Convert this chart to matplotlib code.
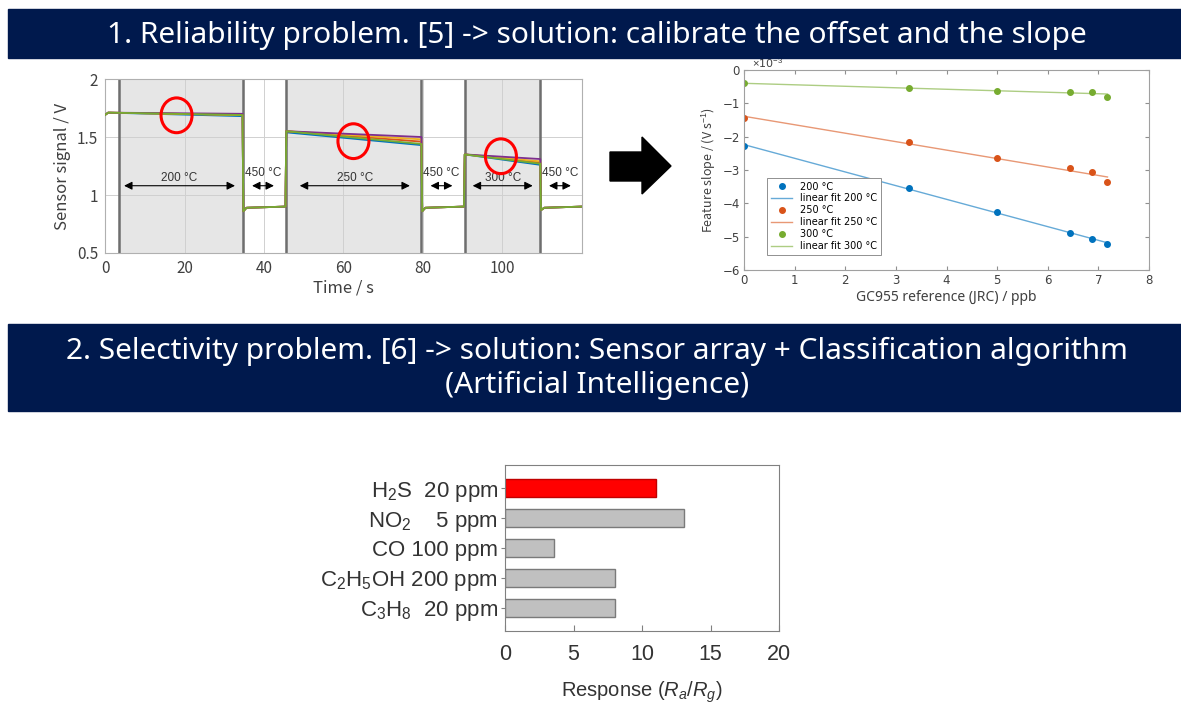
import matplotlib.pyplot as plt
import numpy as np
from matplotlib.patches import Rectangle, Ellipse, Polygon
from matplotlib.transforms import Affine2D

plt.rcParams['mathtext.fontset'] = 'custom'
plt.rcParams['mathtext.rm'] = 'Liberation Sans'
plt.rcParams['mathtext.it'] = 'Liberation Sans:italic'

# section titles
title_1 = "1. Reliability problem. [5] -> solution: calibrate the offset and the slope"
title_2a = "2. Selectivity problem. [6] -> solution: Sensor array + Classification algorithm"
title_2b = "(Artificial Intelligence)"

# sensor signal traces (time in s, signal in V), one per repeated run
t_sig = [0, 0.8, 34.6, 34.8, 35.6, 45.4, 45.6, 79.6, 79.8, 80.6, 90.3, 90.5, 109.5, 109.7, 110.5, 120]
sig_blue = [1.69, 1.71, 1.68, 0.86, 0.89, 0.90, 1.54, 1.43, 0.86, 0.89, 0.90, 1.35, 1.26, 0.87, 0.89, 0.90]
sig_orange = [1.69, 1.71, 1.69, 0.86, 0.89, 0.90, 1.55, 1.46, 0.86, 0.89, 0.90, 1.35, 1.28, 0.87, 0.89, 0.90]
sig_yellow = [1.69, 1.71, 1.69, 0.86, 0.89, 0.90, 1.55, 1.48, 0.86, 0.89, 0.90, 1.35, 1.29, 0.87, 0.89, 0.90]
sig_purple = [1.69, 1.71, 1.70, 0.86, 0.89, 0.90, 1.55, 1.50, 0.86, 0.89, 0.90, 1.35, 1.31, 0.87, 0.89, 0.90]
sig_green = [1.69, 1.71, 1.69, 0.86, 0.89, 0.90, 1.55, 1.44, 0.86, 0.89, 0.90, 1.35, 1.27, 0.87, 0.89, 0.90]

# measurement windows (shaded) and temperature steps
windows = [(3.5, 34.6), (45.6, 79.6), (90.5, 109.5)]
steps = [(4.1, 33.4, "200 °C", 1.15), (36.3, 43.2, "450 °C", 1.19),
         (48.3, 77.4, "250 °C", 1.15), (81.2, 88.1, "450 °C", 1.19),
         (91.8, 108.3, "300 °C", 1.15), (111.0, 117.9, "450 °C", 1.19)]
circles = [(18.0, 1.687), (62.5, 1.464), (99.6, 1.334)]

# feature slope vs reference concentration (x1e-3 V/s)
conc_ppb = [0, 3.25, 5.0, 6.43, 6.88, 7.18]
slope_200 = [-2.27, -3.53, -4.26, -4.88, -5.06, -5.22]
slope_250 = [-1.43, -2.17, -2.63, -2.95, -3.07, -3.37]
slope_300 = [-0.40, -0.55, -0.63, -0.65, -0.65, -0.80]

# gas response
gases = ["H$_2$S  20 ppm", "NO$_2$    5 ppm", "CO 100 ppm", "C$_2$H$_5$OH 200 ppm", "C$_3$H$_8$  20 ppm"]
response = [11.0, 13.1, 3.6, 8.0, 8.0]

W, H = 1181, 706
fig = plt.figure(figsize=(W / 100, H / 100), dpi=100)
pix = Affine2D().scale(1 / W, -1 / H).translate(0, 1) + fig.transFigure


def fbox(x0, y0, x1, y1):
    return [x0 / W, 1 - y1 / H, (x1 - x0) / W, (y1 - y0) / H]


navy = '#00194D'
fig.add_artist(Rectangle((8, 9), W - 8, 49, transform=pix, color=navy))
fig.add_artist(Rectangle((8, 324), W - 8, 87, transform=pix, color=navy))
bfont = dict(family=['Noto Sans', 'DejaVu Sans'], color='white', ha='center', va='center', fontsize=21.5)
fig.text(597 / W, 1 - 35 / H, title_1, **bfont)
fig.text(597 / W, 1 - 351 / H, title_2a, **bfont)
fig.text(597 / W, 1 - 385 / H, title_2b, **bfont)

# big arrow between the two plots
fig.add_artist(Polygon([(610, 152), (642, 152), (642, 137), (671, 166), (642, 194), (642, 181), (610, 181)],
                       closed=True, transform=pix, color='black'))

# ---- sensor signal ----
ax1 = fig.add_axes(fbox(105, 79, 582, 253))
tick_font = dict(family=['Noto Sans CJK KR', 'DejaVu Sans'])
for a, b in windows:
    ax1.axvspan(a, b, color='#E6E6E6', zorder=0)
    ax1.axvline(a, color='#6E6E6E', lw=1.8, zorder=1)
    ax1.axvline(b, color='#6E6E6E', lw=1.8, zorder=1)
for vals, c in [(sig_blue, '#0072BD'), (sig_orange, '#D95319'), (sig_yellow, '#EDB120'),
                (sig_purple, '#7E2F8E'), (sig_green, '#77AC30')]:
    ax1.plot(t_sig, vals, color=c, lw=1.3, zorder=3)
for a, b, lab, ly in steps:
    ax1.annotate('', xy=(a, 1.08), xytext=(b, 1.08),
                 arrowprops=dict(arrowstyle='<|-|>', color='black', lw=0.8, mutation_scale=12), zorder=4)
    ax1.text((a + b) / 2, ly, lab, ha='center', va='center', fontsize=8.5, color='#333333',
             family='Liberation Sans', zorder=4)
for cx, cy in circles:
    ax1.add_patch(Ellipse((cx, cy), 7.8, 0.30, fill=False, edgecolor='red', lw=2.2, zorder=5))
ax1.set_xlim(0, 120)
ax1.set_ylim(0.5, 2)
ax1.set_xticks([0, 20, 40, 60, 80, 100])
ax1.set_yticks([0.5, 1, 1.5, 2])
ax1.set_yticklabels(['0.5', '1', '1.5', '2'])
ax1.grid(True, color='#D0D0D0', lw=0.7)
ax1.set_axisbelow(True)
ax1.tick_params(length=0, labelsize=11, labelcolor='#404040', pad=5)
for lab in ax1.get_xticklabels() + ax1.get_yticklabels():
    lab.set_family(tick_font['family'])
for s in ax1.spines.values():
    s.set_color('#B0B0B0')
ax1.set_xlabel('Time / s', fontsize=12, color='#404040', labelpad=2, **tick_font)
ax1.set_ylabel('Sensor signal / V', fontsize=12, color='#404040', labelpad=4, **tick_font)

# ---- calibration ----
ax2 = fig.add_axes(fbox(744, 70, 1149, 270))
fit_x = np.array([0, conc_ppb[-1]])
for vals, c, lab in [(slope_200, '#0072BD', '200 °C'), (slope_250, '#D95319', '250 °C'),
                     (slope_300, '#77AC30', '300 °C')]:
    ax2.plot(conc_ppb, vals, 'o', color=c, ms=4, label=lab)
    k, d = np.polyfit(conc_ppb, vals, 1)
    ax2.plot(fit_x, k * fit_x + d, color=c, lw=1.0, alpha=0.6, label='linear fit ' + lab)
ax2.set_xlim(0, 8)
ax2.set_ylim(-6, 0)
ax2.set_xticks(range(0, 9))
ax2.set_yticks(range(-6, 1))
ax2.tick_params(direction='in', length=3, labelsize=8.5, labelcolor='#404040', color='#909090',
                top=True, right=True, pad=3)
for s in ax2.spines.values():
    s.set_color('#A0A0A0')
    s.set_linewidth(0.8)
ax2.text(0.02, 1.0, r'$\times$10$^{-3}$', transform=ax2.transAxes, fontsize=8, color='#404040',
         va='bottom', ha='left')
ax2.set_xlabel('GC955 reference (JRC) / ppb', fontsize=10, color='#404040', labelpad=2, family='Noto Sans')
ax2.set_ylabel('Feature slope / (V s$^{-1}$)', fontsize=9, color='#404040', labelpad=3,
               family='Noto Sans CJK KR')
leg = ax2.legend(loc='lower left', bbox_to_anchor=(0.045, 0.05), fontsize=7, handlelength=2.2,
                 borderpad=0.4, labelspacing=0.2, fancybox=False, framealpha=1)
leg.get_frame().set_edgecolor('#909090')
leg.get_frame().set_linewidth(0.7)

# ---- gas response ----
ax3 = fig.add_axes(fbox(505, 465, 779, 631))
ypos = np.arange(len(gases))
colors = ['#FF0000'] + ['#C0C0C0'] * (len(gases) - 1)
edges = ['#C00000'] + ['#7A7A7A'] * (len(gases) - 1)
ax3.barh(ypos, response, height=0.6, color=colors, edgecolor=edges, lw=1.0)
ax3.set_xlim(0, 20)
ax3.set_ylim(4.77, -0.77)
ax3.set_yticks(ypos)
ax3.set_yticklabels(gases)
ax3.set_xticks([0, 5, 10, 15, 20])
ax3.tick_params(axis='x', direction='in', length=4, labelsize=15.5, pad=9, color='#808080')
ax3.tick_params(axis='y', direction='out', length=3, labelsize=16, pad=2, color='#808080')
for lab in ax3.get_xticklabels() + ax3.get_yticklabels():
    lab.set_family('Liberation Sans')
    lab.set_color('#333333')
for s in ax3.spines.values():
    s.set_color('#808080')
ax3.set_xlabel('Response ($R_a$/$R_g$)', fontsize=14.5, family='Liberation Sans', color='#333333',
               labelpad=11)

fig.savefig('out.png', dpi=100)
